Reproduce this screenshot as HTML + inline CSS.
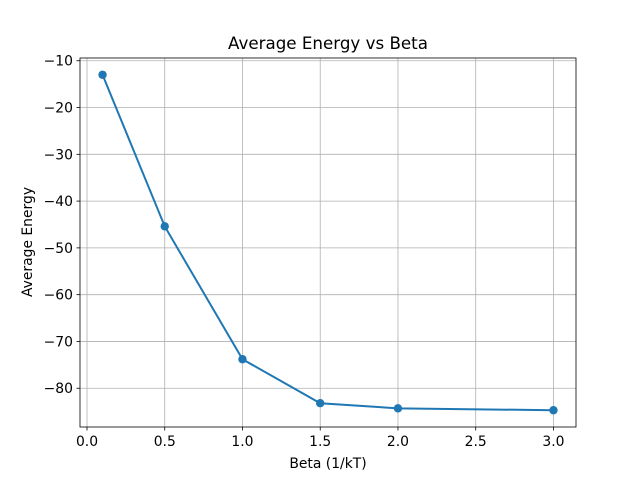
<!DOCTYPE html>
<html><head><meta charset="utf-8"><style>
body{margin:0;background:#fff;}
svg text{font-family:"DejaVu Sans","Liberation Sans",sans-serif;}
</style></head><body>
<svg id="chart" width="640" height="480" xmlns="http://www.w3.org/2000/svg">
<rect width="640" height="480" fill="#fff"/>
<text x="328" y="49" text-anchor="middle" font-size="16.7">Average Energy vs Beta</text>
<text x="328" y="468" text-anchor="middle" font-size="13.9">Beta (1/kT)</text>
<text transform="translate(32,242) rotate(-90)" text-anchor="middle" font-size="13.9">Average Energy</text>
<g id="grid"></g><g id="ticks"></g><g id="series"></g>
<rect x="80" y="58" width="496" height="369" fill="none" stroke="#000" stroke-width="0.8"/>
</svg>
<script>
const betas=[0.1,0.5,1.0,1.5,2.0,3.0];
const energies=[-13.0,-45.4,-73.8,-83.2,-84.3,-84.7];
const xTicks=[0.0,0.5,1.0,1.5,2.0,2.5,3.0];
const xTickLabels=["0.0","0.5","1.0","1.5","2.0","2.5","3.0"];
const yTicks=[-10,-20,-30,-40,-50,-60,-70,-80];
const yTickLabels=["−10","−20","−30","−40","−50","−60","−70","−80"];
const L=80,R=576,T=58,B=427;
const xmin=Math.min(...betas),xmax=Math.max(...betas),xm=(xmax-xmin)*0.05;
const ymin=Math.min(...energies),ymax=Math.max(...energies),ym=(ymax-ymin)*0.05;
const X=v=>L+(v-(xmin-xm))/((xmax+xm)-(xmin-xm))*(R-L);
const Y=v=>B-(v-(ymin-ym))/((ymax+ym)-(ymin-ym))*(B-T);
const NS="http://www.w3.org/2000/svg";
function mk(tag,attrs,parent){const e=document.createElementNS(NS,tag);for(const k in attrs)e.setAttribute(k,attrs[k]);document.getElementById(parent).appendChild(e);return e;}
xTicks.forEach((t,i)=>{const x=X(t);
const g=mk('line',{x1:x,x2:x,y1:T,y2:B,stroke:'#b0b0b0','stroke-width':0.8},'grid');


const tk=mk('line',{x1:x,x2:x,y1:B,y2:B+3.5,stroke:'#000','stroke-width':0.8},'ticks');


const tx=mk('text',{x:x,y:B+19,'text-anchor':'middle','font-size':13.9},'ticks');tx.textContent=xTickLabels[i];


});
yTicks.forEach((t,i)=>{const y=Y(t);
const g=mk('line',{x1:L,x2:R,y1:y,y2:y,stroke:'#b0b0b0','stroke-width':0.8},'grid');


const tk=mk('line',{x1:L-3.5,x2:L,y1:y,y2:y,stroke:'#000','stroke-width':0.8},'ticks');


const tx=mk('text',{x:L-7,y:y+5,'text-anchor':'end','font-size':13.9},'ticks');tx.textContent=yTickLabels[i];


});
const pts=betas.map((b,i)=>X(b)+','+Y(energies[i])).join(' ');
const pl=mk('polyline',{points:pts,fill:'none',stroke:'#1f77b4','stroke-width':2},'series');


betas.forEach((b,i)=>{const c=mk('circle',{cx:X(b),cy:Y(energies[i]),r:4.2,fill:'#1f77b4'},'series');


});
</script>
</body></html>
